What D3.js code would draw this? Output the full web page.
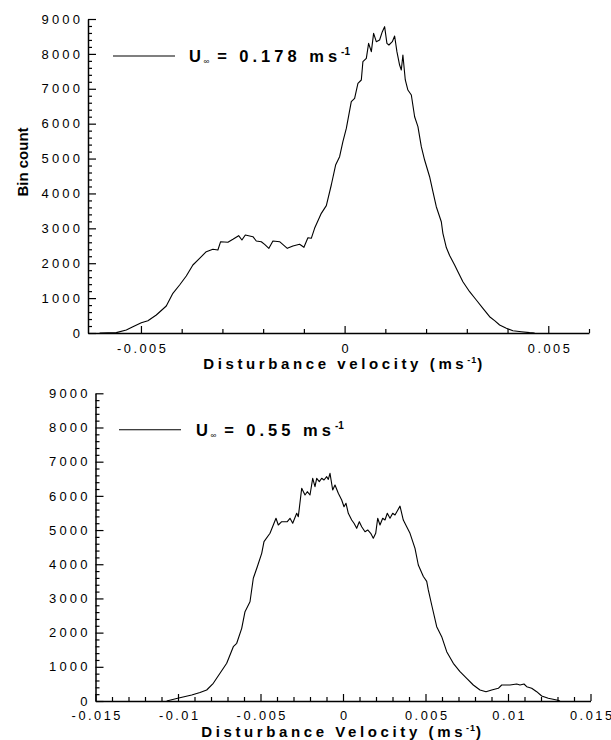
<!DOCTYPE html>
<html><head><meta charset="utf-8">
<script src="https://cdn.jsdelivr.net/npm/d3@7"></script>
<style>
body{margin:0;background:#fff}
svg{display:block}
text{font-family:"Liberation Sans",Arial,sans-serif;fill:#000}
</style>
</head><body>
<svg id="c" width="611" height="740"></svg>
<script>
// ---------- DATA ----------
const topVelocity = [-0.006015,-0.005605,-0.00536,-0.005198,-0.004991,-0.004829,-0.004623,-0.004378,-0.004216,-0.004051,-0.003887,-0.003725,-0.00356,-0.003396,-0.003234,-0.003111,-0.003044,-0.002865,-0.002742,-0.002602,-0.002521,-0.002438,-0.002251,-0.002168,-0.002045,-0.001964,-0.001859,-0.00176,-0.001596,-0.001407,-0.001269,-0.001105,-0.000999,-0.000901,-0.000818,-0.000737,-0.000572,-0.000449,-0.000327,-0.000221,-0.000123,-0.000042,0.000042,0.000164,0.000246,0.000327,0.00041,0.000449,0.000533,0.000589,0.000656,0.000712,0.000778,0.000859,0.000926,0.000982,0.001039,0.001088,0.001171,0.001228,0.001284,0.00135,0.001392,0.001431,0.00149,0.001554,0.001638,0.001719,0.0018,0.001883,0.001964,0.002087,0.002168,0.002251,0.002374,0.002413,0.002497,0.002578,0.002701,0.002782,0.002904,0.003069,0.003233,0.003396,0.00356,0.003683,0.003806,0.00397,0.004132,0.004338,0.004542,0.004665];
const topCount = [0,10,86,180,295,352,516,774,1138,1376,1634,1949,2141,2330,2399,2379,2617,2600,2686,2789,2665,2809,2760,2637,2617,2542,2427,2637,2617,2427,2493,2542,2456,2731,2714,3000,3430,3650,4242,4815,5053,5483,5865,6630,6726,7157,7252,7776,7872,8302,8063,8589,8350,8398,8636,8780,8302,8255,8350,8512,8063,7680,7537,7967,7252,6964,6821,6199,5913,5340,4958,4479,4049,3620,3190,2857,2450,2220,1949,1757,1470,1184,946,708,467,353,229,134,66,37,10,0];

const bottomVelocity = [-0.010685,-0.010018,-0.00917,-0.008667,-0.008261,-0.007861,-0.007455,-0.007048,-0.006648,-0.006442,-0.006139,-0.005939,-0.005636,-0.005436,-0.005194,-0.004927,-0.004788,-0.004424,-0.004224,-0.004061,-0.003921,-0.003715,-0.003376,-0.003212,-0.003048,-0.002806,-0.002709,-0.002503,-0.002303,-0.002164,-0.002,-0.001836,-0.001697,-0.001594,-0.001436,-0.001291,-0.001152,-0.000988,-0.000891,-0.000788,-0.000624,-0.000485,-0.000285,-0.000079,0.000061,0.000182,0.000321,0.000527,0.000667,0.00083,0.000988,0.001133,0.001333,0.001497,0.001679,0.001836,0.001982,0.002103,0.002242,0.002406,0.002545,0.002685,0.002848,0.003012,0.003152,0.003455,0.003655,0.003861,0.004061,0.004364,0.004564,0.00487,0.005073,0.00517,0.005376,0.005679,0.005982,0.006285,0.006685,0.007091,0.007497,0.007897,0.008303,0.008667,0.009012,0.009412,0.009618,0.010121,0.010527,0.010727,0.01097,0.011133,0.011436,0.011739,0.012042,0.012442,0.012952,0.013152];
const bottomCount = [0,79,175,250,322,518,810,1103,1588,1688,2126,2612,2904,3589,3928,4320,4660,4905,5148,5344,5148,5245,5245,5344,5198,5490,5391,6222,6026,6122,6026,6514,6268,6514,6415,6514,6464,6561,6483,6660,6172,6318,6075,5879,5683,5783,5490,5294,5198,5051,5245,5098,4952,5002,4905,4759,4905,5344,5148,5344,5294,5490,5344,5490,5440,5700,5294,5098,4905,4466,3978,3640,3500,3250,2808,2173,1881,1442,1103,857,664,468,322,272,322,371,468,468,497,468,497,418,371,272,146,79,29,0];

const topXTicks = [-0.005, 0, 0.005];
const topXTickLabels = ["-0.005", "0", "0.005"];
const bottomXTicks = [-0.015, -0.01, -0.005, 0, 0.005, 0.01, 0.015];
const bottomXTickLabels = ["-0.015", "-0.01", "-0.005", "0", "0.005", "0.01", "0.015"];
const yTicks = [0, 1000, 2000, 3000, 4000, 5000, 6000, 7000, 8000, 9000];
const yTickLabels = ["0", "1000", "2000", "3000", "4000", "5000", "6000", "7000", "8000", "9000"];

const topLegendValue = "0.178";
const bottomLegendValue = "0.55";
const topXTitle = "Disturbance velocity (ms";
const bottomXTitle = "Disturbance Velocity (ms";
const yTitle = "Bin count";

// ---------- DRAW ----------
const svg = d3.select("#c");
svg.append("rect").attr("width", 611).attr("height", 740).attr("fill", "#fff");

const panels = [
  {
    vel: topVelocity, cnt: topCount,
    xDomain: [-0.0063, 0.006], xRange: [88, 589], yRange: [333, 19],
    majors: topXTicks, majorLabels: topXTickLabels,
    minors: d3.range(-5, 7).map(i => i / 1000),
    xPad: 10.6, title: topXTitle, titleY: 369,
    legendValue: topLegendValue, legendLine: [113, 175], legendY: 56, legendTextX: 189,
    yTitle: true
  },
  {
    vel: bottomVelocity, cnt: bottomCount,
    xDomain: [-0.015, 0.015], xRange: [95.5, 590.5], yRange: [701, 393.3],
    majors: bottomXTicks, majorLabels: bottomXTickLabels,
    minors: d3.range(-15, 16).map(i => i / 1000),
    xPad: 10, title: bottomXTitle, titleY: 737,
    legendValue: bottomLegendValue, legendLine: [119, 181], legendY: 429.7, legendTextX: 196,
    yTitle: false
  }
];

function styleAxis(sel, fontSize, spacing) {
  sel.attr("font-family", null).attr("font-size", null);
  sel.selectAll(".domain").attr("stroke", "#000").attr("stroke-width", 1.5);
  sel.selectAll(".tick line").attr("stroke", "#000").attr("stroke-width", 1.2);
  if (fontSize) {
    sel.selectAll(".tick text")
      .attr("fill", "#000")
      .style("font-size", fontSize + "px")
      .each(function () {
        // spread glyphs without adding trailing space after the last one
        const n = this.textContent.length;
        const w = this.getComputedTextLength();
        if (n > 1) d3.select(this).attr("textLength", w + (n - 1) * spacing).attr("lengthAdjust", "spacing");
      });
  }
}

panels.forEach(p => {
  const x = d3.scaleLinear().domain(p.xDomain).range(p.xRange);
  const y = d3.scaleLinear().domain([0, 9000]).range(p.yRange);
  const g = svg.append("g");
  const x0 = p.yRange[0];

  const isMajorX = v => p.majors.some(m => Math.abs(m - v) < 1e-9);
  const minorX = p.minors.filter(v => !isMajorX(v) && v >= p.xDomain[0] - 1e-9 && v <= p.xDomain[1] + 1e-9);
  const minorY = d3.range(0, 9001, 200).filter(v => v % 1000 !== 0);

  // minor x ticks
  g.append("g").attr("transform", `translate(0,${x0})`)
    .call(d3.axisBottom(x).tickValues(minorX).tickSize(-4).tickSizeOuter(0).tickFormat(""))
    .call(s => { styleAxis(s); s.select(".domain").remove(); });
  // major x ticks
  g.append("g").attr("transform", `translate(0,${x0})`)
    .call(d3.axisBottom(x).tickValues(p.majors).tickSize(-7).tickSizeOuter(0)
      .tickPadding(p.xPad).tickFormat((d, i) => p.majorLabels[i]))
    .call(s => styleAxis(s, 12.8, 2.5));

  // minor y ticks
  g.append("g").attr("transform", `translate(${p.xRange[0]},0)`)
    .call(d3.axisLeft(y).tickValues(minorY).tickSize(-4).tickSizeOuter(0).tickFormat(""))
    .call(s => { styleAxis(s); s.select(".domain").remove(); });
  // major y ticks
  g.append("g").attr("transform", `translate(${p.xRange[0]},0)`)
    .call(d3.axisLeft(y).tickValues(yTicks).tickSize(-8).tickSizeOuter(0)
      .tickPadding(8).tickFormat((d, i) => yTickLabels[i]))
    .call(s => styleAxis(s, 13, 3.2));

  // data line
  const pts = p.vel.map((v, i) => [v, p.cnt[i]]);
  g.append("path").datum(pts)
    .attr("fill", "none").attr("stroke", "#000").attr("stroke-width", 1.1)
    .attr("stroke-linejoin", "round")
    .attr("d", d3.line().x(d => x(d[0])).y(d => y(d[1])));

  // x axis title
  const t = g.append("text")
    .attr("x", x(0)).attr("y", p.titleY)
    .attr("text-anchor", "middle")
    .style("font-size", "15px").style("font-weight", "bold").style("letter-spacing", "3.6px");
  t.append("tspan").text(p.title);
  t.append("tspan").attr("dy", -6).style("font-size", "9px").style("letter-spacing", "1px").text("-1");
  t.append("tspan").attr("dy", 6).text(")");

  // legend
  g.append("line")
    .attr("x1", p.legendLine[0]).attr("x2", p.legendLine[1])
    .attr("y1", p.legendY).attr("y2", p.legendY)
    .attr("stroke", "#000").attr("stroke-width", 1.1);
  const lt = g.append("text")
    .attr("x", p.legendTextX).attr("y", p.legendY + 6)
    .style("font-size", "16.5px").style("font-weight", "bold").style("letter-spacing", "4px");
  lt.append("tspan").text("U");
  lt.append("tspan").attr("dy", 2).attr("dx", -1.5).style("font-size", "8px").style("font-weight", "normal").style("letter-spacing", "0px").text("\u221E");
  lt.append("tspan").attr("dy", -2).attr("dx", 8).text("= " + p.legendValue + " ms");
  lt.append("tspan").attr("dy", -7).style("font-size", "10px").style("letter-spacing", "0px").text("-1");

  if (p.yTitle) {
    g.append("text")
      .attr("transform", "translate(28,162) rotate(-90)")
      .attr("text-anchor", "middle")
      .style("font-size", "15px").style("font-weight", "bold")
      .text(yTitle);
  }
});
</script>
</body></html>
